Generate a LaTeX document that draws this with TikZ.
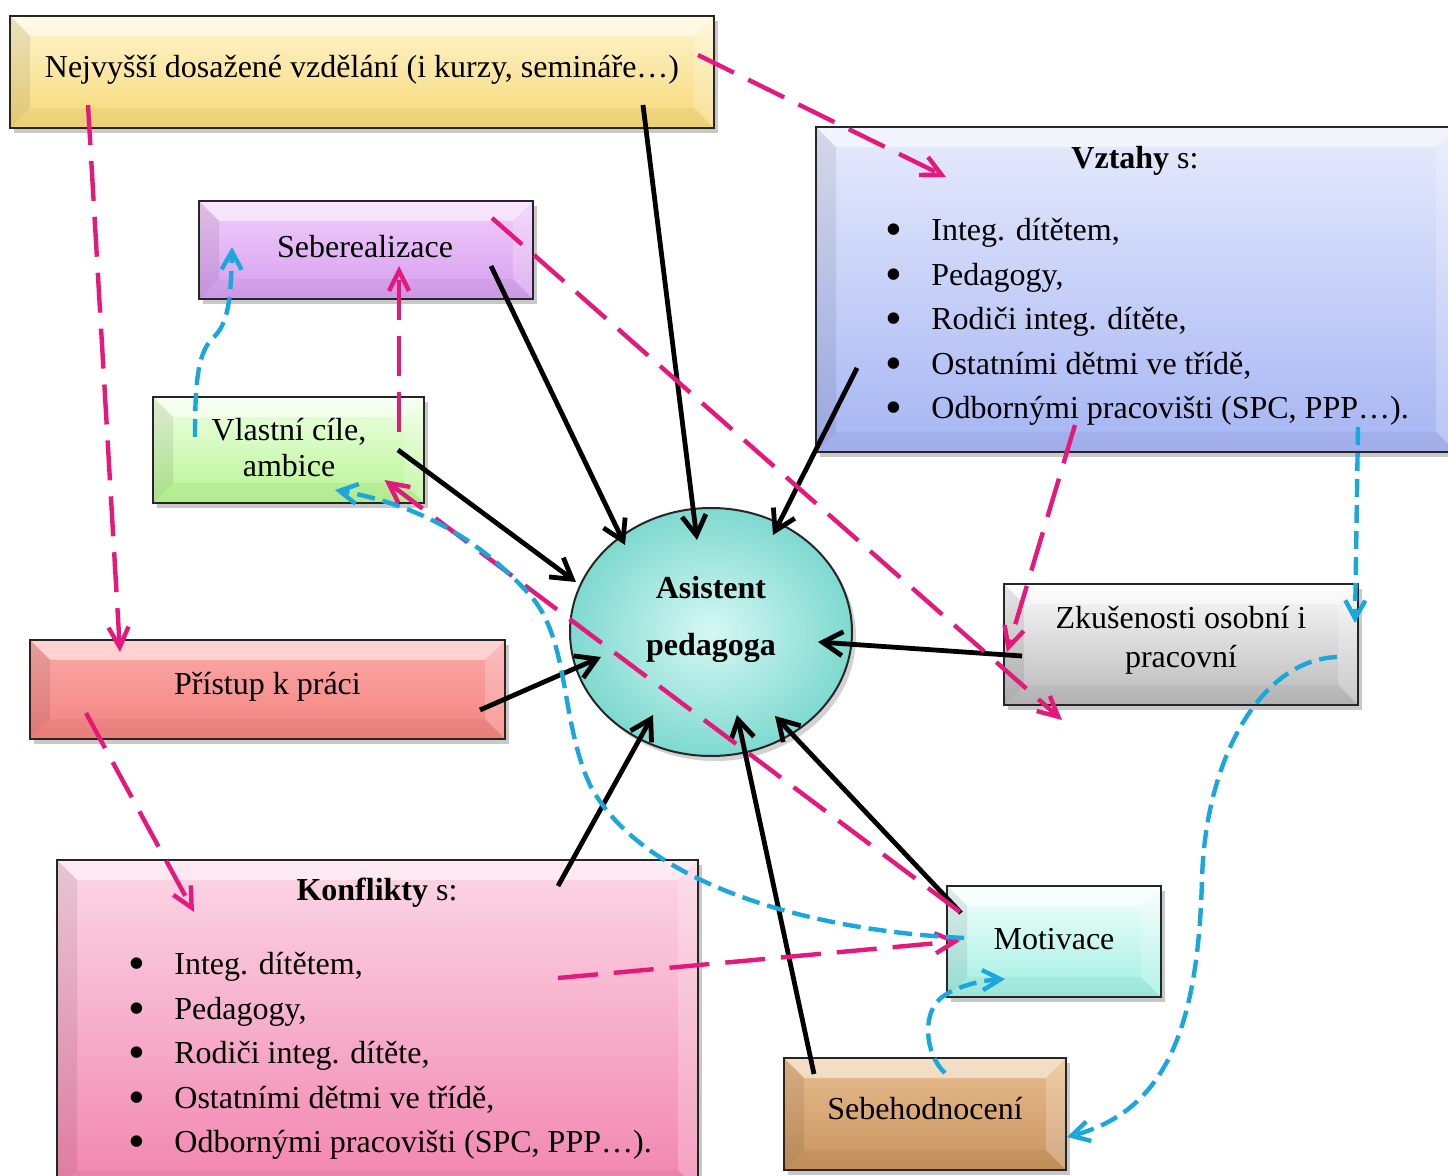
\documentclass[tikz,border=0pt]{standalone}
\usepackage{fontspec}
\setmainfont{Liberation Serif}
\usetikzlibrary{calc,arrows.meta,shadows,shapes.geometric}
\definecolor{pnkc}{HTML}{E5197B}
\definecolor{bluc}{HTML}{1AA7DD}
\definecolor{yelT}{HTML}{FEF5CF}\definecolor{yelB}{HTML}{F7D878}
\definecolor{bluT}{HTML}{E7EBFC}\definecolor{bluB}{HTML}{A6B5F3}
\definecolor{purT}{HTML}{F2CFFA}\definecolor{purB}{HTML}{D59EEF}
\definecolor{grnT}{HTML}{F0FFE6}\definecolor{grnB}{HTML}{B6F591}
\definecolor{gryT}{HTML}{FAFAFA}\definecolor{gryB}{HTML}{B9B9B9}
\definecolor{redT}{HTML}{FBAAA8}\definecolor{redB}{HTML}{F3837F}
\definecolor{pkbT}{HTML}{FBD7E6}\definecolor{pkbB}{HTML}{F285AE}
\definecolor{motT}{HTML}{F4FFFD}\definecolor{motB}{HTML}{A0F0E1}
\definecolor{brnT}{HTML}{E9BE8F}\definecolor{brnB}{HTML}{C8935E}
\definecolor{apI}{HTML}{D6F8F5}\definecolor{apO}{HTML}{7ED9CF}
\def\bv{10pt}
\tikzset{
  bevelpic/.style={path picture={
    \fill[white,opacity=0.5] (path picture bounding box.north west) -- (path picture bounding box.north east)
      -- ([shift={(-\bv,-\bv)}]path picture bounding box.north east) -- ([shift={(\bv,-\bv)}]path picture bounding box.north west) -- cycle;
    \fill[black,opacity=0.08] (path picture bounding box.north west) -- ([shift={(\bv,-\bv)}]path picture bounding box.north west)
      -- ([shift={(\bv,\bv)}]path picture bounding box.south west) -- (path picture bounding box.south west) -- cycle;
    \fill[white,opacity=0.22] (path picture bounding box.north east) -- ([shift={(-\bv,-\bv)}]path picture bounding box.north east)
      -- ([shift={(-\bv,\bv)}]path picture bounding box.south east) -- (path picture bounding box.south east) -- cycle;
    \fill[black,opacity=0.04] (path picture bounding box.south west) -- ([shift={(\bv,\bv)}]path picture bounding box.south west)
      -- ([shift={(-\bv,\bv)}]path picture bounding box.south east) -- (path picture bounding box.south east) -- cycle;
  }},
  bbox/.style 2 args={rectangle, draw=black!85, line width=1.2pt, inner sep=0pt, outer sep=0pt,
    top color=#1, bottom color=#2,
    drop shadow={shadow xshift=2pt, shadow yshift=-2.5pt, opacity=0.3, fill=black!70}, bevelpic},
  txt/.style={font=\fontsize{16}{19}\selectfont, align=center, inner sep=0pt},
  lst/.style={font=\fontsize{16}{22.25}\selectfont, align=left, inner sep=0pt, anchor=west},
  blk/.style={draw=black, line width=2.4pt, -{Straight Barb[length=10pt,width=12pt]}},
  pnk/.style={draw=pnkc, line width=2.2pt, dash pattern=on 20pt off 8pt, -{Straight Barb[length=10pt,width=10pt]}},
  blu/.style={draw=bluc, line width=2.2pt, dash pattern=on 9pt off 4pt, -{Straight Barb[length=9pt,width=10pt]}},
}
\newcommand{\bul}{\makebox[23pt][l]{\raisebox{-2.5pt}{\fontsize{24}{24}\selectfont•}}}
\begin{document}
\begin{tikzpicture}[x=0.5pt,y=-0.5pt]
\useasboundingbox (0,0) rectangle (1448,1176);
\clip (0,0) rectangle (1448,1176);
\fill[white] (0,0) rectangle (1448,1176);

% boxes
\node[bbox={yelT}{yelB}, minimum width=352pt, minimum height=56pt] (nej) at (362,72) {};
\node[bbox={bluT}{bluB}, minimum width=320pt, minimum height=162.5pt] (vzt) at (1136,289.5) {};
\node[bbox={purT}{purB}, minimum width=167pt, minimum height=49pt] (seb) at (366,250) {};
\node[bbox={grnT}{grnB}, minimum width=135.5pt, minimum height=53pt] (vla) at (288.5,450) {};
\node[bbox={gryT}{gryB}, minimum width=177pt, minimum height=60.5pt] (zku) at (1181,644.5) {};
\node[bbox={redT}{redB}, minimum width=237.5pt, minimum height=49.5pt] (pri) at (267.5,689.5) {};
\node[bbox={pkbT}{pkbB}, minimum width=320.5pt, minimum height=165pt] (kon) at (377.5,1025) {};
\node[bbox={motT}{motB}, minimum width=107pt, minimum height=55.5pt] (mot) at (1054,941.5) {};
\node[bbox={brnT}{brnB}, minimum width=141pt, minimum height=56pt] (sbh) at (925,1114) {};
\node[ellipse, draw=black!85, line width=1pt, inner sep=0pt, outer sep=0pt, minimum width=141pt, minimum height=124pt,
  inner color=apI, outer color=apO, drop shadow={shadow xshift=2pt, shadow yshift=-2.5pt, opacity=0.25, fill=black!70}] (ap) at (711,632) {};

% texts
\node[txt] (nejt) at ($(nej.center)+(0,-2.5)$) {Nejvyšší dosažené vzdělání (i kurzy, semináře…)};
\node[txt] (vztt) at ($(vzt.center)+(-1,-129)$) {\textbf{Vztahy} s:};
\node[lst] (vztl) at ($(vzt.center)+(-251,32.5)$) {\bul Integ. dítětem,\\ \bul Pedagogy,\\ \bul Rodiči integ. dítěte,\\ \bul Ostatními dětmi ve třídě,\\ \bul Odbornými pracovišti (SPC, PPP…).};
\node[txt] (sebt) at ($(seb.center)+(-1,-3)$) {Seberealizace};
\node[txt, font=\fontsize{16}{18}\selectfont] (vlat) at ($(vla.center)+(0.5,-2)$) {Vlastní cíle,\\ ambice};
\node[txt, font=\fontsize{16}{28.5}\selectfont\bfseries] (apt) at ($(ap.center)+(0,-12.5)$) {Asistent\\ pedagoga};
\node[txt, font=\fontsize{16}{19.5}\selectfont] (zkut) at ($(zku.center)+(0,-4.5)$) {Zkušenosti osobní i\\ pracovní};
\node[txt] (prit) at ($(pri.center)+(0,-3)$) {Přístup k práci};
\node[txt] (kont) at ($(kon.center)+(-0.5,-132)$) {\textbf{Konflikty} s:};
\node[lst] (konl) at ($(kon.center)+(-249.5,31)$) {\bul Integ. dítětem,\\ \bul Pedagogy,\\ \bul Rodiči integ. dítěte,\\ \bul Ostatními dětmi ve třídě,\\ \bul Odbornými pracovišti (SPC, PPP…).};
\node[txt] (mott) at ($(mot.center)+(0,-2.5)$) {Motivace};
\node[txt] (sbht) at ($(sbh.center)+(0,-5)$) {Sebehodnocení};

% black arrows
\draw[blk] ($(nej.center)+(281,33)$) -- ($(ap.center)+(-14,-92)$);
\draw[blk] ($(seb.center)+(125,16)$) -- ($(ap.center)+(-86,-87)$);
\draw[blk] ($(vzt.center)+(-279,78.5)$) -- ($(ap.center)+(62,-97)$);
\draw[blk] ($(vla.center)+(109.5,0)$) -- ($(ap.center)+(-135,-50)$);
\draw[blk] ($(pri.center)+(212.5,20.5)$) -- ($(ap.center)+(-110,25)$);
\draw[blk] ($(zku.center)+(-159,11.5)$) -- ($(ap.center)+(107,10)$);
\draw[blk] ($(kon.center)+(180.5,-139)$) -- ($(ap.center)+(-58,83)$);
\draw[blk] ($(sbh.center)+(-111,-40)$) -- ($(ap.center)+(26,83)$);
\draw[blk] ($(mot.center)+(-93,-28.5)$) -- ($(ap.center)+(64,84)$);

% pink dashed arrows
\draw[pnk] ($(nej.center)+(-274,33)$) -- ($(pri.center)+(-147.5,-37.5)$);
\draw[pnk] ($(nej.center)+(336,-17)$) -- ($(vzt.center)+(-190,-112.5)$);
\draw[pnk] ($(vla.center)+(110.5,-18)$) -- ($(seb.center)+(33,16)$);
\draw[pnk] ($(seb.center)+(126,-32)$) -- ($(zku.center)+(-119,75.5)$);
\draw[pnk] ($(vzt.center)+(-61,135.5)$) -- ($(zku.center)+(-174,7.5)$);
\draw[pnk] ($(pri.center)+(-181.5,23.5)$) -- ($(kon.center)+(-183.5,-113)$);
\draw[pnk] ($(kon.center)+(180.5,-47)$) -- ($(mot.center)+(-94,-0.5)$);
\draw[pnk] ($(mot.center)+(-94,-29.5)$) -- ($(vla.center)+(96,30)$);

% blue dashed arrows
\draw[blu] ($(vla.center)+(-93.5,-13)$) .. controls (195,380) and (198,350) .. (215,336)
  .. controls (228,322) and (231,300) .. ($(seb.center)+(-134,-3)$);
\draw[blu] ($(mot.center)+(-90,-3.5)$) .. controls (800,930) and (640,880) .. (590,785)
  .. controls (560,720) and (570,640) .. (530,595) .. controls (480,540) and (420,505) .. ($(vla.center)+(46.5,40)$);
\draw[blu] ($(vzt.center)+(222,137.5)$) -- ($(zku.center)+(174,-21.5)$);
\draw[blu] ($(zku.center)+(156,12.5)$) .. controls (1260,660) and (1205,760) .. (1202,880)
  .. controls (1198,1020) and (1170,1110) .. ($(sbh.center)+(142,23)$);
\draw[blu] ($(sbh.center)+(20,-41)$) .. controls (925,1055) and (920,1010) .. (945,995)
  .. controls (960,985) and (985,980) .. ($(mot.center)+(-49,37.5)$);
\end{tikzpicture}
\end{document}
